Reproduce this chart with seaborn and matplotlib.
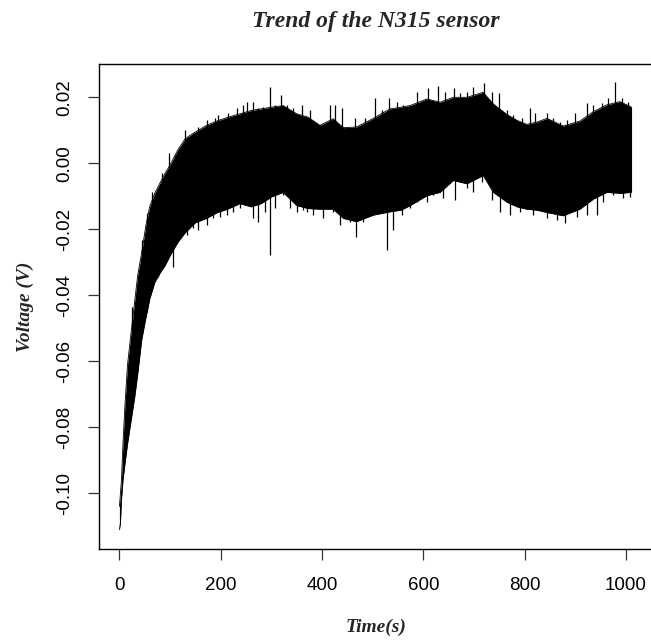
import numpy as np
import pandas as pd
import matplotlib
matplotlib.use("Agg")
import matplotlib.pyplot as plt
import seaborn as sns

# Envelope (dense body) of the N315 sensor signal (s, V)
time_s = [0, 2, 4, 7, 11, 16, 24, 30, 36, 44, 52, 60, 70, 80, 90, 100, 115, 130,
          150, 172, 192, 215, 238, 260, 280, 300, 323, 350, 372, 396, 422, 442,
          468, 501, 534, 556, 574, 607, 633, 659, 686, 718, 738, 765, 785, 804,
          824, 844, 876, 909, 936, 962, 988, 1011]
upper_v = [-0.104, -0.100, -0.096, -0.085, -0.073, -0.061, -0.050, -0.042, -0.034,
           -0.027, -0.019, -0.013, -0.009, -0.006, -0.003, -0.0005, 0.004, 0.0075,
           0.0095, 0.0115, 0.0128, 0.0140, 0.0150, 0.0160, 0.0165, 0.0170, 0.0175,
           0.0150, 0.0140, 0.0115, 0.0135, 0.0108, 0.0110, 0.0136, 0.0165, 0.0170,
           0.0175, 0.0195, 0.0185, 0.0200, 0.0200, 0.0215, 0.0180, 0.0148, 0.0130,
           0.0118, 0.0125, 0.0136, 0.0113, 0.0128, 0.0157, 0.0177, 0.0187, 0.0170]
lower_v = [-0.111, -0.109, -0.102, -0.096, -0.091, -0.085, -0.077, -0.071, -0.064,
           -0.0535, -0.047, -0.041, -0.036, -0.0333, -0.031, -0.028, -0.024, -0.021,
           -0.018, -0.0167, -0.015, -0.0138, -0.0122, -0.0132, -0.0122, -0.0102,
           -0.0088, -0.0128, -0.0137, -0.0139, -0.0139, -0.0167, -0.0177, -0.0157,
           -0.0147, -0.0142, -0.0128, -0.0098, -0.0088, -0.0052, -0.0062, -0.0037,
           -0.0088, -0.0118, -0.0132, -0.0139, -0.0142, -0.0149, -0.0159, -0.0139,
           -0.0108, -0.0088, -0.0091, -0.0088]

# Individual spikes poking out of the body (upper side)
up_spike_t = [24.2, 44, 53.8, 63.7, 83.5, 98.5, 109.8, 129.5, 145.9, 155.8, 172.3,
              188.7, 195.3, 215, 231.5, 244.6, 251.3, 264.3, 274.2, 284, 297, 307,
              318.4, 330, 343.3, 359.8, 376.2, 396, 415.7, 425.6, 438.8, 448.6,
              465.1, 484.8, 504.6, 517.7, 532.8, 547.3, 560.5, 586.8, 609.8, 628.3,
              642.7, 661.2, 672.3, 685.5, 698.7, 720.4, 734.9, 750, 764.5, 777.6,
              794.1, 810.5, 820.4, 843.4, 856.6, 869.7, 882.9, 899.4, 922.4, 935.5,
              952, 965.2, 978.3, 991.5, 1004.6]
up_spike_v = [-0.0434, -0.0232, -0.0152, -0.0086, -0.0030, 0.0030, 0.0025, 0.0101,
              0.0091, 0.0111, 0.0131, 0.0136, 0.0146, 0.0152, 0.0167, 0.0177, 0.0187,
              0.0187, 0.0167, 0.0172, 0.0232, 0.0177, 0.0207, 0.0177, 0.0167, 0.0177,
              0.0162, 0.0116, 0.0177, 0.0177, 0.0167, 0.0111, 0.0136, 0.0136, 0.0199,
              0.0162, 0.0197, 0.0187, 0.0177, 0.0217, 0.0227, 0.0235, 0.0217, 0.0227,
              0.0212, 0.0217, 0.0232, 0.0244, 0.0217, 0.0212, 0.0162, 0.0146, 0.0136,
              0.0167, 0.0152, 0.0152, 0.0136, 0.0126, 0.0131, 0.0152, 0.0182, 0.0177,
              0.0182, 0.0197, 0.0245, 0.0197, 0.0187]

# Individual spikes poking out of the body (lower side)
low_spike_t = [54, 60.4, 67, 76.8, 93.4, 99.9, 106, 113, 123, 132.8, 145.9, 155.8,
               172.3, 185.4, 198.6, 211.8, 224.8, 238, 251.3, 264.3, 274.2, 287.4,
               297, 307, 323.5, 336.8, 350, 363, 369.7, 382.8, 402.6, 422.3, 435.5,
               455.2, 467, 481.5, 498, 514.4, 528.9, 540.7, 557.2, 573.6, 586.8,
               606.5, 619.7, 639.4, 662.5, 672.3, 685.5, 698.7, 715.1, 734.9, 751.3,
               771, 790.8, 817.1, 843.4, 863.2, 879.6, 902.6, 922.4, 942.1, 955.3,
               975, 994.8, 1007.9]
low_spike_v = [-0.045, -0.0394, -0.0364, -0.0344, -0.0293, -0.0268, -0.0313, -0.0238,
               -0.0207, -0.0217, -0.0197, -0.0202, -0.0187, -0.0167, -0.0162, -0.0157,
               -0.0147, -0.0136, -0.0126, -0.0167, -0.0177, -0.0147, -0.0278, -0.0136,
               -0.0096, -0.0136, -0.0147, -0.0141, -0.0147, -0.0157, -0.0167, -0.0147,
               -0.0187, -0.0177, -0.0222, -0.0177, -0.0157, -0.0116, -0.0263, -0.0202,
               -0.0157, -0.0136, -0.0116, -0.0116, -0.0096, -0.0106, -0.0111, -0.0056,
               -0.0076, -0.0086, -0.0056, -0.0111, -0.0147, -0.0157, -0.0147, -0.0157,
               -0.0167, -0.0172, -0.0182, -0.0162, -0.0157, -0.0157, -0.0116, -0.0096,
               -0.0106, -0.0101]

x_ticks = [0, 200, 400, 600, 800, 1000]
y_ticks = [-0.10, -0.08, -0.06, -0.04, -0.02, 0.00, 0.02]

sns.set_style("ticks")
plt.rcParams["font.family"] = ["Liberation Sans", "DejaVu Sans"]

W, H = 651, 644
fig = plt.figure(figsize=(W / 100, H / 100), dpi=100)
left, right, top, bottom = 98.9, 653.0, 64.3, 549.3
ax = fig.add_axes([left / W, 1 - bottom / H, (right - left) / W, (bottom - top) / H])

ax.fill_between(time_s, lower_v, upper_v, color="black", lw=0)
df = pd.DataFrame({
    "Time": time_s + time_s,
    "Voltage": upper_v + lower_v,
    "edge": ["upper"] * len(time_s) + ["lower"] * len(time_s),
})
sns.lineplot(data=df, x="Time", y="Voltage", units="edge", estimator=None,
             color="black", lw=0.6, ax=ax, legend=False)

mid = (np.array(upper_v) + np.array(lower_v)) / 2
ax.vlines(up_spike_t, np.interp(up_spike_t, time_s, mid), up_spike_v,
          color="black", lw=0.9)
ax.vlines(low_spike_t, np.interp(low_spike_t, time_s, mid), low_spike_v,
          color="black", lw=0.9)

ax.set_xlim(-40.5, 1053.3)
ax.set_ylim(-0.11697, 0.0300)
ax.set_xticks(x_ticks)
ax.set_xticklabels([str(v) for v in x_ticks])
ax.set_yticks(y_ticks)
ax.set_yticklabels([f"{v:.2f}" for v in y_ticks], rotation=90, va="center")

for s in ax.spines.values():
    s.set_linewidth(1.0)
    s.set_color("black")
ax.tick_params(axis="both", direction="out", length=7.6, width=0.9, color="#333333",
               labelsize=13.5, colors="black")
ax.tick_params(axis="x", pad=12)
ax.tick_params(axis="y", pad=11)

ax.set_xlabel("Time(s)", fontfamily="Liberation Serif", fontweight="bold",
              fontstyle="italic", fontsize=14, labelpad=18)
ax.set_ylabel("Voltage (V)", fontfamily="Liberation Serif", fontweight="bold",
              fontstyle="italic", fontsize=14, labelpad=16)
fig.text((left + right) / 2 / W, 1 - 21 / H, "Trend of the N315 sensor",
         ha="center", va="center", fontfamily="Liberation Serif",
         fontweight="bold", fontstyle="italic", fontsize=17)

fig.savefig("out.png", dpi=100, facecolor="white")
